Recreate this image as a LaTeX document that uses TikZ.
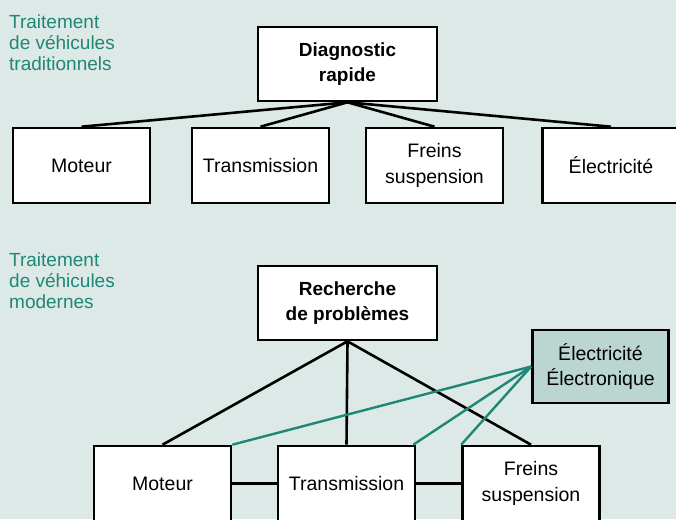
\documentclass[tikz,border=0pt]{standalone}
\usepackage{fontspec}
\setmainfont{Liberation Sans}
\usepackage{xcolor}
\usepackage{tikz}
\definecolor{fond}{HTML}{DDE9E6}
\definecolor{sarcelle}{HTML}{1E8776}
\definecolor{sarcelleclair}{HTML}{BBD6D0}
\tikzstyle{bloc}=[draw, line width=2.6pt, fill=white, minimum width=137pt, minimum height=75pt, align=center, font=\fontsize{19.5}{25.5}\selectfont, inner sep=0pt]
\tikzstyle{tete}=[bloc, minimum width=179pt, minimum height=74pt, font=\fontsize{19}{25}\selectfont\bfseries]
\tikzstyle{titre}=[anchor=north west, align=left, inner sep=0pt, text=sarcelle, font=\fontsize{19}{21}\selectfont]
\tikzstyle{lien}=[line width=2.6pt]
\tikzstyle{lienelec}=[line width=2.4pt, draw=sarcelle]

\begin{document}
\begin{tikzpicture}[x=1pt, y=-1pt]
        \useasboundingbox (0,0) rectangle (676,519);
        \clip (0,0) rectangle (676,519);
        \fill[fond] (0,0) rectangle (676,519);
        % traitement traditionnel
        \node[titre] (titreA) at (9,15) {Traitement\\de véhicules\\traditionnels};
        \node[tete] (diag) at (347.5,64) {Diagnostic\\rapide};
        \node[bloc] (moteurA) at (81.5,165.5) {Moteur};
        \node[bloc] (transA) at (260.5,165.5) {Transmission};
        \node[bloc] (freinsA) at (434.5,165.5) {Freins\\suspension};
        \node[bloc] (elecA) at (611,165.5) {Électricité};
        \foreach \b in {moteurA,transA,freinsA,elecA} {
            \draw[lien] (diag.south) -- (\b.north);
        }
        % traitement moderne
        \node[titre] (titreB) at (9,253) {Traitement\\de véhicules\\modernes};
        \node[tete] (rech) at (347.5,303) {Recherche\\de problèmes};
        \node[bloc, fill=sarcelleclair, minimum width=136pt, minimum height=73pt] (elecB) at (600.5,366.5) {Électricité\\Électronique};
        \node[bloc] (moteurB) at (162.5,483.5) {Moteur};
        \node[bloc] (transB) at (346.5,483.5) {Transmission};
        \node[bloc] (freinsB) at (531,483.5) {Freins\\suspension};
        \foreach \b in {moteurB,transB,freinsB} {
            \draw[lien] (rech.south) -- (\b.north);
        }
        \draw[lienelec] (elecB.west) -- (moteurB.north east);
        \draw[lienelec] (elecB.west) -- ([xshift=-3pt]transB.north east);
        \draw[lienelec] (elecB.west) -- (freinsB.north west);
        \draw[lien] (moteurB.east) -- (transB.west);
        \draw[lien] (transB.east) -- (freinsB.west);
    \end{tikzpicture}
\end{document}
